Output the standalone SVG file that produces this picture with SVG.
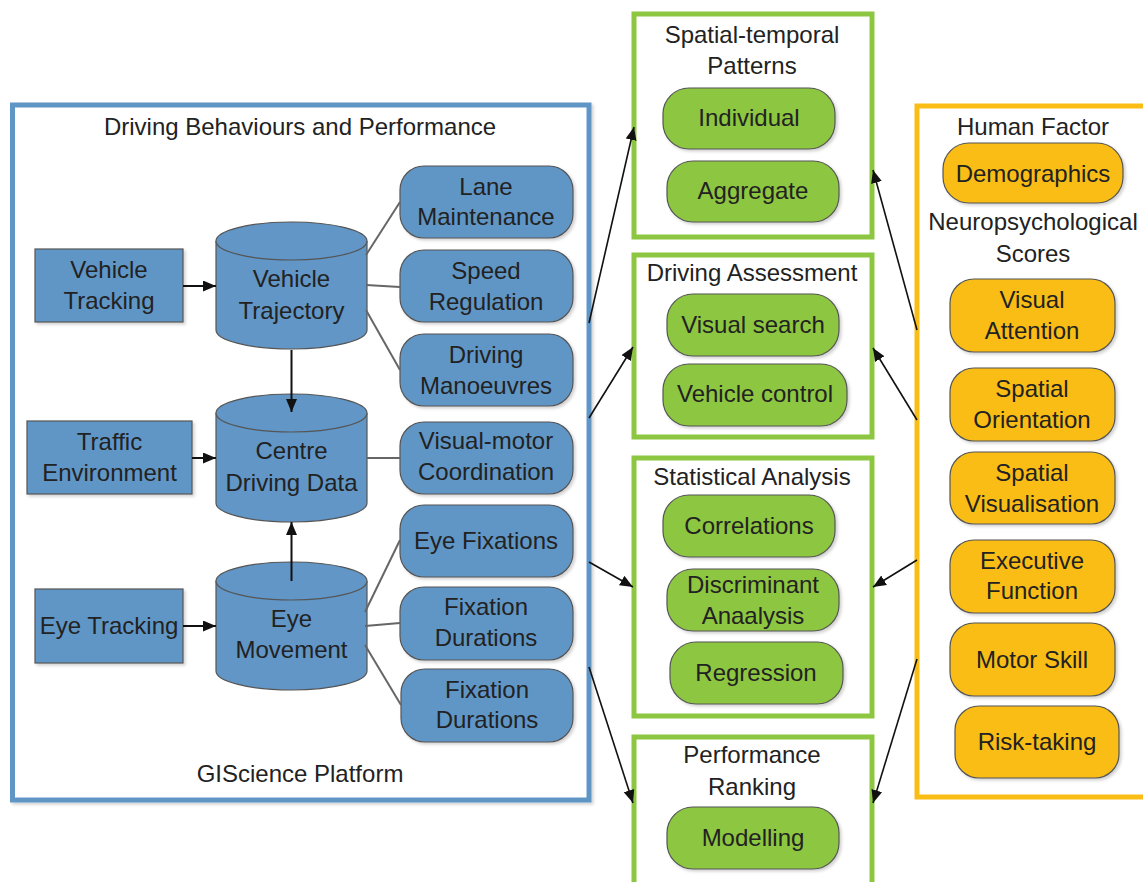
<svg xmlns="http://www.w3.org/2000/svg" width="1143" height="882" viewBox="0 0 1143 882">
<style>
text{font-family:"Liberation Sans",Arial,sans-serif;font-size:24px;fill:#222;text-anchor:middle}
.blue{fill:#6196c6;stroke:#555;stroke-width:1.2}
.green{fill:#8dc641;stroke:#555;stroke-width:1.2}
.orange{fill:#f9bd16;stroke:#555;stroke-width:1.2}
.fb{fill:#fff;stroke:#6196c6;stroke-width:5}
.fg{fill:#fff;stroke:#8dc641;stroke-width:5}
.fo{fill:#fff;stroke:#f9bd16;stroke-width:5}
.ln{stroke:#666;stroke-width:2;fill:none}
.ar{stroke:#111;stroke-width:1.6;fill:none;marker-end:url(#ah)}
.ar2{stroke:#111;stroke-width:2;fill:none;marker-end:url(#ah)}
</style>
<defs>
<marker id="ah" markerUnits="userSpaceOnUse" markerWidth="14" markerHeight="12" refX="13" refY="5.5" orient="auto">
<path d="M0,0 L13,5.5 L0,11 z" fill="#111"/>
</marker>
<filter id="sh" x="-10%" y="-10%" width="130%" height="130%">
<feDropShadow dx="2" dy="2" stdDeviation="1.5" flood-color="#000" flood-opacity="0.18"/>
</filter>
</defs>
<rect width="1143" height="882" fill="#fff"/>

<!-- frames -->
<g id="frame-driving">
<rect class="fb" x="12.5" y="105" width="576.5" height="695" filter="url(#sh)"/>
<text x="300" y="135">Driving Behaviours and Performance</text>
<text x="300" y="782">GIScience Platform</text>
</g>
<g id="frame-spatial">
<rect class="fg" x="634" y="14" width="238" height="223"/>
<text x="752" y="43">Spatial-temporal</text>
<text x="752" y="74">Patterns</text>
</g>
<g id="frame-assessment">
<rect class="fg" x="634" y="255" width="238" height="182"/>
<text x="752" y="281">Driving Assessment</text>
</g>
<g id="frame-statistical">
<rect class="fg" x="634" y="458" width="238" height="258"/>
<text x="752" y="485">Statistical Analysis</text>
</g>
<g id="frame-ranking">
<rect class="fg" x="634" y="737" width="238" height="160"/>
<text x="752" y="763">Performance</text>
<text x="752" y="795">Ranking</text>
</g>
<g id="frame-human">
<rect class="fo" x="917" y="106" width="240" height="691"/>
<text x="1033" y="135">Human Factor</text>
<text x="1033" y="230">Neuropsychological</text>
<text x="1033" y="262">Scores</text>
</g>

<!-- left input nodes -->
<g id="vehicle-tracking">
<rect class="blue" x="35" y="249" width="148" height="73" filter="url(#sh)"/>
<text x="109" y="278">Vehicle</text>
<text x="109" y="309">Tracking</text>
</g>
<g id="traffic-environment">
<rect class="blue" x="27" y="421" width="165" height="73" filter="url(#sh)"/>
<text x="109.5" y="450">Traffic</text>
<text x="109.5" y="481">Environment</text>
</g>
<g id="eye-tracking">
<rect class="blue" x="35" y="589" width="148" height="74" filter="url(#sh)"/>
<text x="109" y="634">Eye Tracking</text>
</g>

<!-- cylinders -->
<g id="vehicle-trajectory">
<path class="blue" d="M216,241 A75.5,19 0 0 1 367,241 L367,330 A75.5,19 0 0 1 216,330 Z"/>
<path class="blue" d="M216,241 A75.5,19 0 0 0 367,241" fill="none"/>
<text x="291.5" y="287">Vehicle</text>
<text x="291.5" y="319">Trajectory</text>
</g>
<g id="centre-driving-data">
<path class="blue" d="M216,413 A75.5,19 0 0 1 367,413 L367,503 A75.5,19 0 0 1 216,503 Z"/>
<path class="blue" d="M216,413 A75.5,19 0 0 0 367,413" fill="none"/>
<text x="291.5" y="459">Centre</text>
<text x="291.5" y="491">Driving Data</text>
</g>
<g id="eye-movement">
<path class="blue" d="M216,581 A75.5,19 0 0 1 367,581 L367,671 A75.5,19 0 0 1 216,671 Z"/>
<path class="blue" d="M216,581 A75.5,19 0 0 0 367,581" fill="none"/>
<text x="291.5" y="627">Eye</text>
<text x="291.5" y="658">Movement</text>
</g>

<!-- blue outputs -->
<g id="lane-maintenance">
<rect class="blue" x="400" y="166" width="173" height="72" rx="24" filter="url(#sh)"/>
<text x="486" y="195">Lane</text>
<text x="486" y="225">Maintenance</text>
</g>
<g id="speed-regulation">
<rect class="blue" x="400" y="250" width="173" height="72" rx="24" filter="url(#sh)"/>
<text x="486" y="279">Speed</text>
<text x="486" y="310">Regulation</text>
</g>
<g id="driving-manoeuvres">
<rect class="blue" x="400" y="334" width="173" height="72" rx="24" filter="url(#sh)"/>
<text x="486" y="363">Driving</text>
<text x="486" y="394">Manoeuvres</text>
</g>
<g id="visual-motor">
<rect class="blue" x="400" y="422" width="173" height="72" rx="24" filter="url(#sh)"/>
<text x="486" y="449">Visual-motor</text>
<text x="486" y="480">Coordination</text>
</g>
<g id="eye-fixations">
<rect class="blue" x="400" y="505" width="173" height="72" rx="24" filter="url(#sh)"/>
<text x="486" y="549">Eye Fixations</text>
</g>
<g id="fixation-durations-1">
<rect class="blue" x="400" y="587" width="173" height="73" rx="24" filter="url(#sh)"/>
<text x="486" y="615">Fixation</text>
<text x="486" y="646">Durations</text>
</g>
<g id="fixation-durations-2">
<rect class="blue" x="401" y="669" width="172" height="73" rx="24" filter="url(#sh)"/>
<text x="487" y="698">Fixation</text>
<text x="487" y="728">Durations</text>
</g>

<!-- green nodes -->
<g id="individual">
<rect class="green" x="663" y="88" width="172" height="61" rx="26" filter="url(#sh)"/>
<text x="749" y="126">Individual</text>
</g>
<g id="aggregate">
<rect class="green" x="667" y="161" width="172" height="61" rx="26" filter="url(#sh)"/>
<text x="753" y="199">Aggregate</text>
</g>
<g id="visual-search">
<rect class="green" x="667" y="294" width="172" height="62" rx="26" filter="url(#sh)"/>
<text x="753" y="333">Visual search</text>
</g>
<g id="vehicle-control">
<rect class="green" x="663" y="364" width="184" height="62" rx="26" filter="url(#sh)"/>
<text x="755" y="402">Vehicle control</text>
</g>
<g id="correlations">
<rect class="green" x="663" y="495" width="172" height="62" rx="26" filter="url(#sh)"/>
<text x="749" y="534">Correlations</text>
</g>
<g id="discriminant">
<rect class="green" x="667" y="569" width="172" height="62" rx="26" filter="url(#sh)"/>
<text x="753" y="593">Discriminant</text>
<text x="753" y="624">Anaalysis</text>
</g>
<g id="regression">
<rect class="green" x="670" y="642" width="173" height="62" rx="26" filter="url(#sh)"/>
<text x="756" y="681">Regression</text>
</g>
<g id="modelling">
<rect class="green" x="667" y="807" width="172" height="62" rx="26" filter="url(#sh)"/>
<text x="753" y="846">Modelling</text>
</g>

<!-- orange nodes -->
<g id="demographics">
<rect class="orange" x="943" y="143" width="180" height="60" rx="26" filter="url(#sh)"/>
<text x="1033" y="182">Demographics</text>
</g>
<g id="visual-attention">
<rect class="orange" x="950" y="279" width="165" height="73" rx="24" filter="url(#sh)"/>
<text x="1032" y="308">Visual</text>
<text x="1032" y="339">Attention</text>
</g>
<g id="spatial-orientation">
<rect class="orange" x="950" y="368" width="165" height="73" rx="24" filter="url(#sh)"/>
<text x="1032" y="397">Spatial</text>
<text x="1032" y="428">Orientation</text>
</g>
<g id="spatial-visualisation">
<rect class="orange" x="950" y="452" width="165" height="72" rx="24" filter="url(#sh)"/>
<text x="1032" y="481">Spatial</text>
<text x="1032" y="512">Visualisation</text>
</g>
<g id="executive-function">
<rect class="orange" x="950" y="540" width="165" height="73" rx="24" filter="url(#sh)"/>
<text x="1032" y="569">Executive</text>
<text x="1032" y="599">Function</text>
</g>
<g id="motor-skill">
<rect class="orange" x="950" y="623" width="165" height="73" rx="24" filter="url(#sh)"/>
<text x="1032" y="668">Motor Skill</text>
</g>
<g id="risk-taking">
<rect class="orange" x="955" y="706" width="164" height="72" rx="24" filter="url(#sh)"/>
<text x="1037" y="750">Risk-taking</text>
</g>

<!-- connectors -->
<g id="connectors">
<line class="ar2" x1="183" y1="286" x2="216" y2="286"/>
<line class="ar2" x1="192" y1="458" x2="216" y2="458"/>
<line class="ar2" x1="183" y1="626" x2="216" y2="626"/>
<line class="ar2" x1="291.5" y1="350" x2="291.5" y2="412"/>
<line class="ar2" x1="291.5" y1="581" x2="291.5" y2="522"/>
<line class="ln" x1="366" y1="255" x2="400" y2="202"/>
<line class="ln" x1="366" y1="285" x2="400" y2="287"/>
<line class="ln" x1="366" y1="310" x2="400" y2="370"/>
<line class="ln" x1="367" y1="458" x2="400" y2="458"/>
<line class="ln" x1="365" y1="612" x2="400" y2="540"/>
<line class="ln" x1="365" y1="626" x2="400" y2="623"/>
<line class="ln" x1="365" y1="645" x2="401" y2="705"/>
<line class="ar" x1="589" y1="323" x2="634" y2="127"/>
<line class="ar" x1="589" y1="418" x2="633" y2="347"/>
<line class="ar" x1="589" y1="562" x2="633" y2="587"/>
<line class="ar" x1="589" y1="667" x2="633" y2="803"/>
<line class="ar" x1="917" y1="330" x2="873" y2="170"/>
<line class="ar" x1="917" y1="420" x2="873" y2="348"/>
<line class="ar" x1="917" y1="560" x2="873" y2="587"/>
<line class="ar" x1="917" y1="659" x2="873" y2="803"/>
</g>
</svg>
